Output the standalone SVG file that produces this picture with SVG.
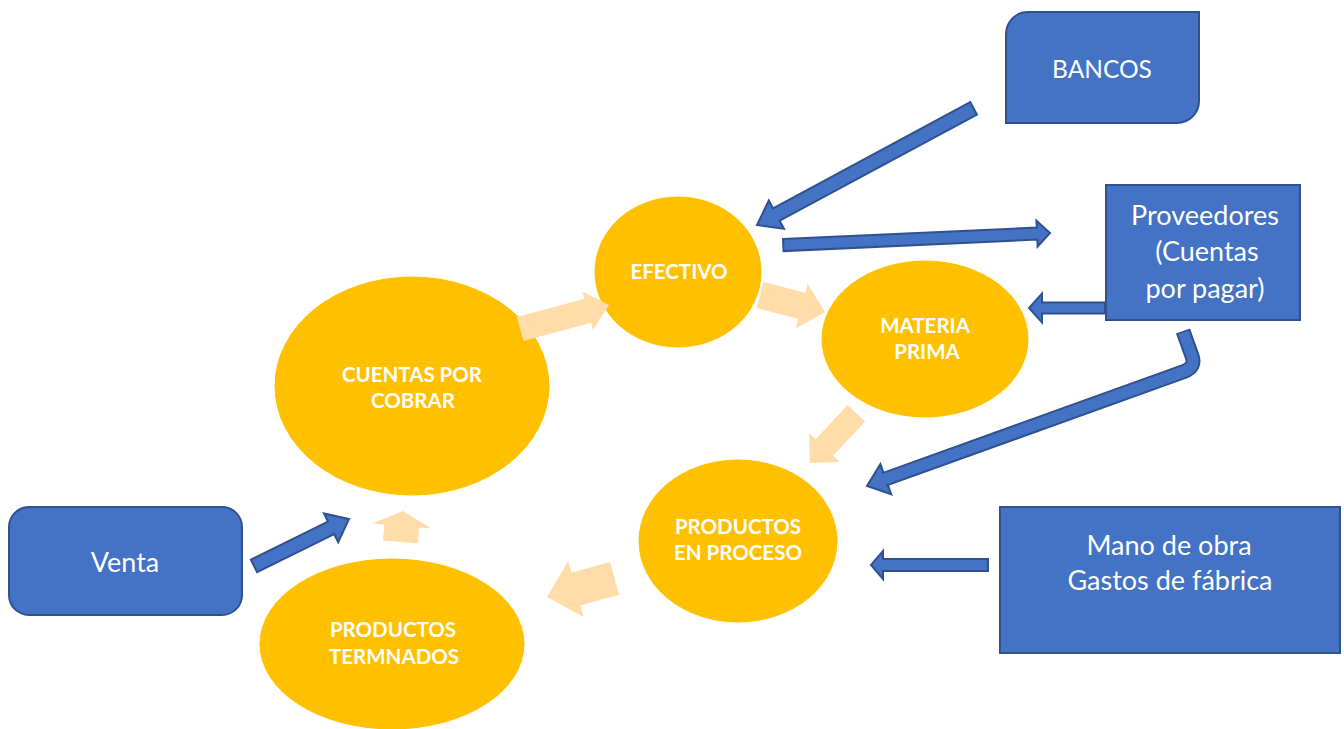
<svg xmlns="http://www.w3.org/2000/svg" width="1344" height="729" viewBox="0 0 1344 729">
<style>
.ell{fill:#FFC000;stroke:#FFFFFF;stroke-width:1}
.lt{fill:#FFDCA8}
.box{fill:#4472C4;stroke:#2F528F;stroke-width:2}
.bar{fill:#4472C4;stroke:#2F528F;stroke-width:2;stroke-linejoin:miter}
.bt{font-family:Lato,"Liberation Sans",sans-serif;font-weight:bold;font-size:20.5px;fill:#FFFFFF;text-anchor:middle}
.wt{font-family:Lato,"Liberation Sans",sans-serif;font-size:27px;fill:#FFFFFF;text-anchor:middle}
</style>
<rect width="1344" height="729" fill="#FFFFFF"/>

<g id="efectivo"><ellipse class="ell" cx="678" cy="272" rx="84" ry="76"/><text class="bt" x="679" y="279">EFECTIVO</text></g>
<g id="cuentas-por-cobrar"><ellipse class="ell" cx="412" cy="386" rx="138" ry="110"/><text class="bt" x="412" y="382">CUENTAS POR</text><text class="bt" x="413" y="408">COBRAR</text></g>
<g id="materia-prima"><ellipse class="ell" cx="925" cy="339" rx="104" ry="79"/><text class="bt" x="925" y="333">MATERIA</text><text class="bt" x="927" y="359">PRIMA</text></g>
<g id="productos-en-proceso"><ellipse class="ell" cx="738" cy="541" rx="100" ry="82"/><text class="bt" x="738" y="534">PRODUCTOS</text><text class="bt" x="738" y="560">EN PROCESO</text></g>
<g id="productos-terminados"><ellipse class="ell" cx="392" cy="644" rx="133" ry="86"/><text class="bt" x="393" y="637">PRODUCTOS</text><text class="bt" x="394" y="664">TERMNADOS</text></g>

<g id="bancos"><path class="box" d="M1028,12 H1199 V101 A22,22 0 0 1 1177,123 H1006 V34 A22,22 0 0 1 1028,12 Z"/><text class="wt" x="1102" y="78" style="font-size:24.5px">BANCOS</text></g>
<g id="proveedores"><rect class="box" x="1106" y="185" width="194" height="135"/><text class="wt" x="1205" y="225">Proveedores</text><text class="wt" x="1207" y="261">(Cuentas</text><text class="wt" x="1205" y="298">por pagar)</text></g>
<g id="mano-de-obra"><rect class="box" x="1000" y="507" width="340" height="146"/><text class="wt" x="1169" y="555">Mano de obra</text><text class="wt" x="1170" y="590">Gastos de fábrica</text></g>
<g id="venta"><rect class="box" x="9" y="507" width="233" height="108" rx="20"/><text class="wt" x="125" y="572">Venta</text></g>

<g id="connectors">
<polygon class="lt" transform="translate(609,305) rotate(-15.1)" points="-92,-12.5 -22,-12.5 -22,-20 0,0 -22,20 -22,12.5 -92,12.5"/>
<polygon class="lt" transform="translate(825,312) rotate(14.7)" points="-67,-13.5 -24,-13.5 -24,-23 0,0 -24,23 -24,13.5 -67,13.5"/>
<polygon class="lt" transform="translate(810,463) rotate(133)" points="-68,-12 -21,-12 -21,-21 0,0 -21,21 -21,12 -68,12"/>
<polygon class="lt" transform="translate(547,597) rotate(164.6)" points="-70,-17 -30,-17 -30,-29 0,0 -30,29 -30,17 -70,17"/>
<polygon class="lt" transform="translate(403,511) rotate(-85.2)" points="-31,-17.5 -15,-17.5 -15,-29.5 0,0 -15,29.5 -15,17.5 -31,17.5"/>

<polygon class="bar" transform="translate(757,225) rotate(151.7)" points="-246,-7 -22,-7 -22,-16 0,0 -22,16 -22,7 -246,7"/>
<polygon class="bar" transform="translate(1050,233) rotate(-2.6)" points="-267,-6 -13,-6 -13,-13 0,0 -13,13 -13,6 -267,6"/>
<polygon class="bar" transform="translate(1029,308) rotate(180)" points="-76,-5.5 -13,-5.5 -13,-14.5 0,0 -13,14.5 -13,5.5 -76,5.5"/>
<polygon class="bar" transform="translate(871,565) rotate(180)" points="-117,-6 -12,-6 -12,-14 0,0 -12,14 -12,6 -117,6"/>
<polygon class="bar" transform="translate(349,519) rotate(-26.3)" points="-106,-7 -20,-7 -20,-16 0,0 -20,16 -20,7 -106,7"/>

<polygon class="bar" transform="translate(867,486) rotate(160.2)" points="-20,-16 0,0 -20,16"/>
<path d="M1183,331 L1192,356 Q1196,367 1184,371.5 L884,479.5" fill="none" stroke="#2F528F" stroke-width="15"/>
<path d="M1183.5,332.5 L1192,356 Q1196,367 1184,371.5 L883,479.8" fill="none" stroke="#4472C4" stroke-width="11"/>
</g>
</svg>
